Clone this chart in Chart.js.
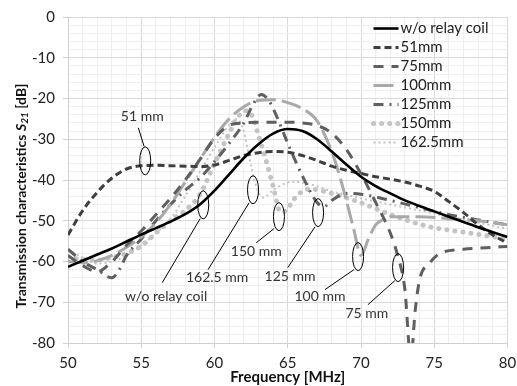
<!DOCTYPE html>
<html>
<head>
<meta charset="utf-8">
<script src="https://cdn.jsdelivr.net/npm/chart.js@4.4.1/dist/chart.umd.min.js"></script>
<style>
  html, body { margin: 0; padding: 0; background: #fff; }
  #wrap { width: 517px; height: 386px; }
</style>
</head>
<body>
<div id="wrap"><canvas id="s21-chart" width="517" height="386"></canvas></div>
<script>
// frequency [MHz] / transmission S21 [dB]
const coilF = [50, 51, 52, 53, 54, 55, 56, 57, 58, 59, 60, 61, 62, 63, 64, 65, 66, 67, 68, 69, 70, 71, 72, 73, 74, 75, 76, 77, 78, 79, 80];
const coilDb = [-61.3, -59.8, -58.3, -56.8, -55.1, -53.4, -51.8, -50.2, -48.4, -46, -42.6, -38.6, -34.6, -31.2, -28.6, -27.5, -28, -30, -33, -36.2, -39.2, -41.5, -43.3, -45, -46.4, -47.7, -49, -50.3, -51.6, -52.8, -54];

const mm51F = [50, 51, 52, 53, 54, 55, 56, 57, 58, 59, 60, 61, 62, 63, 64, 65, 66, 67, 68, 69, 70, 71, 72, 73, 74, 75, 76, 77, 78, 79, 80];
const mm51Db = [-53.5, -47.5, -43, -39.5, -37.3, -36.5, -36.4, -36.5, -36.6, -36.7, -36.3, -35.2, -34, -33.3, -33, -33.2, -34, -35.2, -36.6, -37.6, -38.4, -39.2, -39.8, -40.5, -41.5, -42.8, -45.3, -48, -51, -53.5, -55.5];

const mm75F = [50, 51, 52, 53, 54, 55, 56, 57, 58, 59, 60, 61, 62, 63, 64, 65, 66, 67, 68, 69, 70, 71, 72, 72.5, 73, 73.4, 73.7, 74, 74.7, 75.4, 77, 78.6, 80];
const mm75Db = [-58.5, -61, -62.5, -60, -56, -52.5, -48.5, -44.5, -40, -35, -29.8, -26.6, -26, -25.8, -25.8, -25.8, -26, -26.6, -28.5, -32.5, -38.5, -45.5, -53, -58.5, -67, -84, -72, -64.5, -60.3, -58, -57, -56.6, -56.3];

const mm100F = [50, 51, 52, 53, 54, 55, 56, 57, 58, 59, 60, 61, 62, 63, 64, 65, 66, 67, 68, 68.5, 69, 69.5, 70, 70.5, 71, 71.5, 72, 74, 76, 78, 80];
const mm100Db = [-60, -60.3, -59.8, -58.5, -56.5, -54, -50.5, -46, -40.5, -35, -29.5, -25, -22, -20.5, -20.3, -21, -22.5, -25.5, -33, -38.5, -45, -52, -58.5, -54.5, -51, -49.7, -49, -49, -49.5, -50, -51];

const mm125F = [50, 51, 52, 53, 53.5, 54, 55, 56, 57, 58, 59, 60, 61, 62, 62.7, 63.2, 63.7, 64.2, 65, 66, 67, 67.5, 68, 69, 70, 72, 74, 76, 78, 80];
const mm125Db = [-57, -60, -62, -64, -62, -58.5, -54.5, -50, -46, -42.5, -39.5, -35.5, -31, -26, -21, -19, -20.5, -24, -31, -39, -45.5, -46.5, -45, -43.3, -43.5, -45, -46.8, -48.5, -49.8, -51];

const mm150F = [50, 51, 52, 53, 54, 55, 56, 57, 58, 59, 60, 61, 61.6, 62.2, 62.6, 63, 63.5, 64, 64.5, 64.9, 65.3, 65.8, 66.5, 68, 70, 72.4, 74.7, 77, 80];
const mm150Db = [-59, -59.5, -59.7, -59, -58, -56.2, -53, -50, -47.5, -43.6, -36, -28.5, -24.5, -23, -24.5, -29, -35, -41.5, -47.8, -47.5, -45.3, -43.3, -42.2, -43.3, -45.6, -49, -51.5, -52.8, -54.5];

const mm162F = [50, 51, 52, 53, 54, 55, 56, 57, 58, 59, 60, 61, 61.5, 62, 62.4, 62.8, 63.3, 64, 64.6, 65.3, 66, 67, 68, 69, 70, 72, 74, 76, 78, 80];
const mm162Db = [-57, -59, -60.5, -60, -58.5, -56, -53, -49.5, -44, -38, -32, -26.5, -25, -28, -35, -41, -44.3, -42.5, -41.2, -40.4, -40.6, -41.5, -42.8, -43.6, -44.5, -46, -47.5, -49, -50.5, -52];

const seriesNames = ['w/o relay coil', '51mm', '75mm', '100mm', '125mm', '150mm', '162.5mm'];

// callouts: ellipse centre, leader line start/end, label centre (all in MHz / dB)
const calloutText = ['51 mm', 'w/o relay coil', '162.5 mm', '150 mm', '125 mm', '100 mm', '75 mm'];
const calloutRing = [[55.27, -35.3], [59.23, -46.1], [62.63, -42.4], [64.4, -49], [67.07, -48], [69.8, -58.8], [72.53, -61.5]];
const calloutFrom = [[55.2, -31.8], [59.02, -49.5], [62.36, -45.6], [64.07, -51.9], [66.86, -51.5], [69.52, -62], [72.31, -64.7]];
const calloutTo = [[54.8, -27.2], [56.43, -65.2], [59.56, -62], [62.85, -55.4], [65.0, -61.5], [67.54, -66.9], [70.47, -70.6]];
const calloutAt = [[55.07, -24.5], [56.7, -68.6], [60.18, -63.8], [62.85, -57.6], [65.16, -63.7], [67.2, -68.6], [70.4, -72.8]];

const FONT = 'Lato, "Open Sans", sans-serif';

function pts(xs, ys) {
  return xs.map((x, i) => ({ x: x, y: ys[i] }));
}

const styles = [
  { color: '#000000', width: 2.6, dash: [] },
  { color: '#3f3f3f', width: 3, dash: [7, 4] },
  { color: '#5f5f5f', width: 3, dash: [10, 8] },
  { color: '#a9a9a9', width: 3, dash: [20, 6] },
  { color: '#606060', width: 3, dash: [10, 6, 2, 6] },
  { color: '#c4c4c4', width: 5, dash: [0.1, 8] },
  { color: '#c4c4c4', width: 2, dash: [2, 3] }
];

const allData = [
  pts(coilF, coilDb), pts(mm51F, mm51Db), pts(mm75F, mm75Db), pts(mm100F, mm100Db),
  pts(mm125F, mm125Db), pts(mm150F, mm150Db), pts(mm162F, mm162Db)
];

const datasets = seriesNames.map((name, i) => ({
  label: name,
  data: allData[i],
  borderColor: styles[i].color,
  borderWidth: styles[i].width,
  borderDash: styles[i].dash,
  borderCapStyle: i === 5 ? 'round' : 'butt',
  pointRadius: 0,
  fill: false,
  cubicInterpolationMode: 'monotone'
}));

// legend drawn inside the plot, top right
const legendBox = {
  id: 'legendBox',
  afterDraw(chart) {
    const ctx = chart.ctx;
    const a = chart.chartArea;
    const x0 = a.right - 134;
    let y = a.top + 11.5;
    ctx.save();
    ctx.font = '15px ' + FONT;
    ctx.textBaseline = 'middle';
    ctx.fillStyle = '#222';
    datasets.forEach((d, i) => {
      ctx.beginPath();
      ctx.strokeStyle = d.borderColor;
      ctx.lineWidth = d.borderWidth;
      ctx.setLineDash(d.borderDash);
      ctx.lineCap = d.borderCapStyle;
      ctx.moveTo(x0, y);
      ctx.lineTo(x0 + 25, y);
      ctx.stroke();
      ctx.setLineDash([]);
      ctx.fillText(d.label, x0 + 27, y);
      y += 19;
    });
    ctx.restore();
  }
};

// ellipses + leader lines + labels
const callouts = {
  id: 'callouts',
  afterDraw(chart) {
    const ctx = chart.ctx;
    const xs = chart.scales.x, ys = chart.scales.y;
    const px = p => [xs.getPixelForValue(p[0]), ys.getPixelForValue(p[1])];
    ctx.save();
    ctx.strokeStyle = '#000';
    ctx.lineWidth = 1;
    ctx.font = '14px ' + FONT;
    ctx.fillStyle = '#333';
    ctx.textAlign = 'center';
    ctx.textBaseline = 'middle';
    calloutText.forEach((t, i) => {
      const r = px(calloutRing[i]);
      ctx.beginPath();
      ctx.ellipse(r[0], r[1], 5.5, 14, 0, 0, Math.PI * 2);
      ctx.stroke();
      const a = px(calloutFrom[i]), b = px(calloutTo[i]);
      ctx.beginPath();
      ctx.moveTo(a[0], a[1]);
      ctx.lineTo(b[0], b[1]);
      ctx.stroke();
      const c = px(calloutAt[i]);
      ctx.fillText(t, c[0], c[1]);
    });
    ctx.restore();
  }
};

// y title with italic S and subscript 21
const yTitle = {
  id: 'yTitle',
  afterDraw(chart) {
    const ctx = chart.ctx;
    const a = chart.chartArea;
    const parts = [
      ['Transmission characteristics ', 'bold 14px ' + FONT, 0],
      ['S', 'italic bold 14px ' + FONT, 0],
      ['21', 'italic bold 10px ' + FONT, 4],
      [' [dB]', 'bold 14px ' + FONT, 0]
    ];
    ctx.save();
    let total = 0;
    parts.forEach(p => { ctx.font = p[1]; total += ctx.measureText(p[0]).width; });
    ctx.translate(21, (a.top + a.bottom) / 2 + 16);
    ctx.rotate(-Math.PI / 2);
    ctx.fillStyle = '#111';
    ctx.textBaseline = 'middle';
    let x = -total / 2;
    parts.forEach(p => {
      ctx.font = p[1];
      ctx.fillText(p[0], x, p[2]);
      x += ctx.measureText(p[0]).width;
    });
    ctx.restore();
  }
};

const ctx = document.getElementById('s21-chart').getContext('2d');
new Chart(ctx, {
  type: 'line',
  data: { datasets: datasets },
  options: {
    responsive: false,
    animation: false,
    layout: { padding: { top: 17, right: 9.5, left: 0, bottom: 0 } },
    plugins: { legend: { display: false }, tooltip: { enabled: false } },
    scales: {
      x: {
        type: 'linear',
        min: 50, max: 80,
        afterFit(s) { s.height = 43; s.paddingLeft = 0; s.paddingRight = 0; },
        ticks: {
          stepSize: 1,
          autoSkip: false,
          maxRotation: 0,
          padding: 6,
          color: '#222',
          font: { family: FONT, size: 15 },
          callback: v => (v % 5 === 0 ? v : '')
        },
        grid: {
          color: c => (c.tick && c.tick.value % 5 === 0 ? '#d9d9d9' : '#efefef'),
          tickColor: c => (c.tick && c.tick.value % 5 === 0 ? '#d0d0d0' : 'rgba(0,0,0,0)'),
          tickLength: 5
        },
        border: { color: '#d0d0d0' },
        title: {
          display: true,
          text: 'Frequency [MHz]',
          color: '#111',
          font: { family: FONT, size: 15, weight: 'bold' },
          padding: { top: -6, bottom: 0 }
        }
      },
      y: {
        min: -80, max: 0,
        afterFit(s) { s.width = 68; s.paddingTop = 0; s.paddingBottom = 0; },
        ticks: {
          stepSize: 2,
          autoSkip: false,
          padding: 8,
          color: '#222',
          font: { family: FONT, size: 15 },
          callback: v => (v % 10 === 0 ? v : '')
        },
        grid: {
          color: c => (c.tick && c.tick.value % 10 === 0 ? '#d9d9d9' : '#efefef'),
          tickColor: c => (c.tick && c.tick.value % 10 === 0 ? '#d0d0d0' : 'rgba(0,0,0,0)'),
          tickLength: 5
        },
        border: { color: '#d0d0d0' }
      }
    }
  },
  plugins: [legendBox, callouts, yTitle]
});
</script>
</body>
</html>
